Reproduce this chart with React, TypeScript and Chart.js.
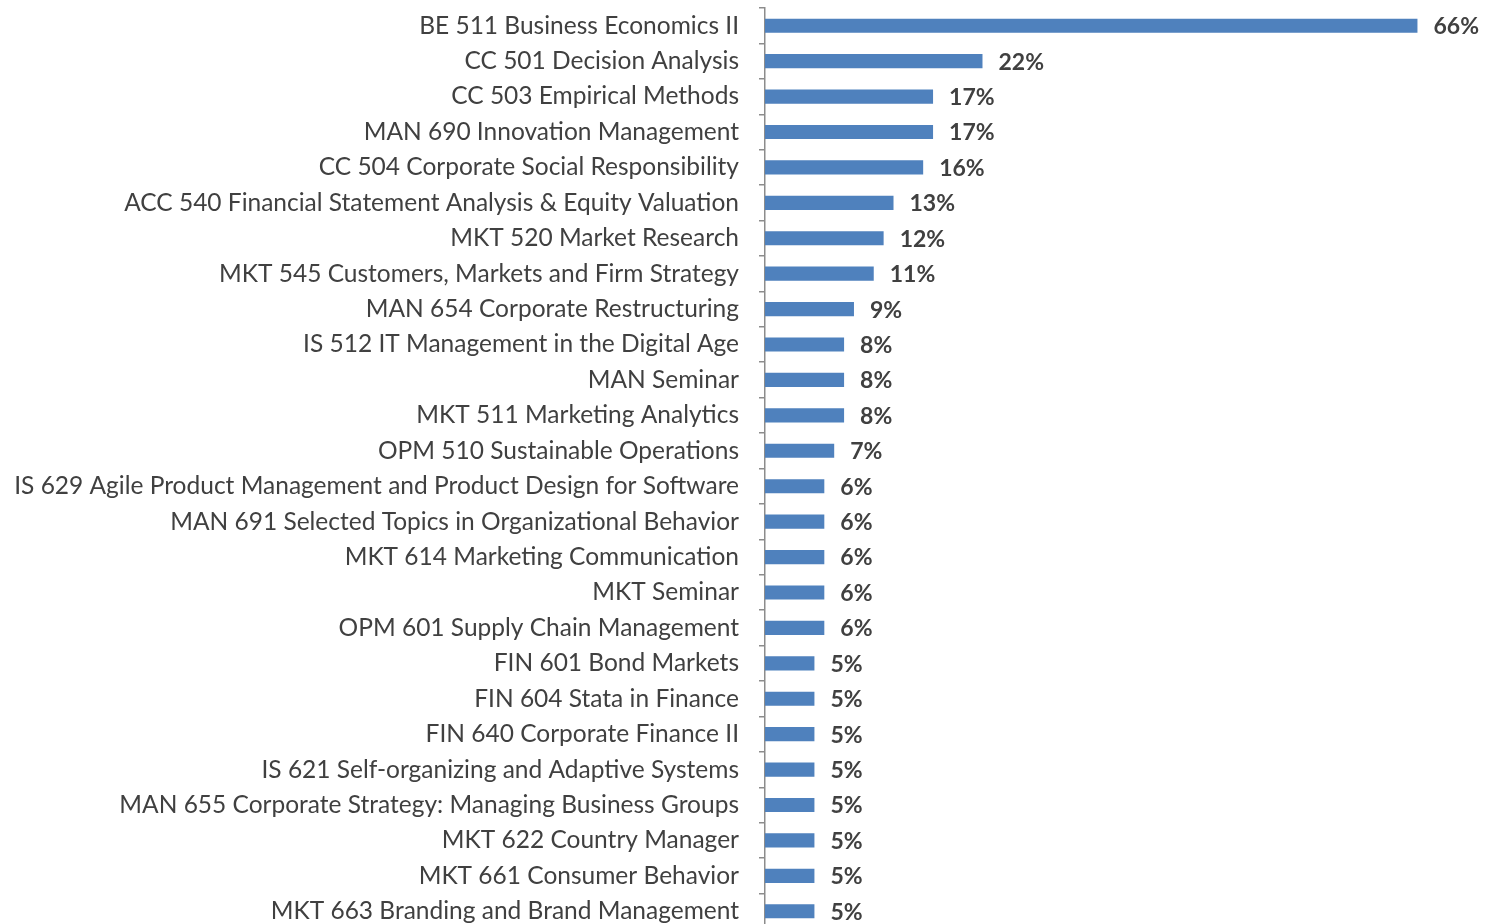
import React, { useEffect, useRef } from "react";
import { Chart, registerables } from "chart.js";

Chart.register(...registerables);

const courses: string[] = [
  "BE 511 Business Economics II",
  "CC 501 Decision Analysis",
  "CC 503 Empirical Methods",
  "MAN 690 Innovation Management",
  "CC 504 Corporate Social Responsibility",
  "ACC 540 Financial Statement Analysis & Equity Valuation",
  "MKT 520 Market Research",
  "MKT 545 Customers, Markets and Firm Strategy",
  "MAN 654 Corporate Restructuring",
  "IS 512 IT Management in the Digital Age",
  "MAN Seminar",
  "MKT 511 Marketing Analytics",
  "OPM 510 Sustainable Operations",
  "IS 629 Agile Product Management and Product Design for Software",
  "MAN 691 Selected Topics in Organizational Behavior",
  "MKT 614 Marketing Communication",
  "MKT Seminar",
  "OPM 601 Supply Chain Management",
  "FIN 601 Bond Markets",
  "FIN 604 Stata in Finance",
  "FIN 640 Corporate Finance II",
  "IS 621 Self-organizing and Adaptive Systems",
  "MAN 655 Corporate Strategy: Managing Business Groups",
  "MKT 622 Country Manager",
  "MKT 661 Consumer Behavior",
  "MKT 663 Branding and Brand Management",
];

const shares: number[] = [66, 22, 17, 17, 16, 13, 12, 11, 9, 8, 8, 8, 7, 6, 6, 6, 6, 6, 5, 5, 5, 5, 5, 5, 5, 5];

const valueLabels = {
  id: "valueLabels",
  afterDatasetsDraw(chart: any) {
    const ctx = chart.ctx;
    const meta = chart.getDatasetMeta(0);
    ctx.save();
    ctx.font = "bold 23px Lato";
    ctx.fillStyle = "#404040";
    ctx.textAlign = "left";
    ctx.textBaseline = "middle";
    meta.data.forEach((bar: any, i: number) => {
      ctx.fillText(shares[i] + "%", bar.x + 16, bar.y + 1);
    });
    ctx.restore();
  },
};

export default function App() {
  const ref = useRef<HTMLCanvasElement>(null);
  useEffect(() => {
    if (!ref.current) return;
    const chart = new Chart(ref.current, {
      type: "bar",
      data: {
        labels: courses,
        datasets: [
          {
            data: shares,
            backgroundColor: "#4F81BD",
            borderWidth: 0,
            barPercentage: 0.4,
            categoryPercentage: 1,
          },
        ],
      },
      options: {
        indexAxis: "y",
        animation: false,
        responsive: false,
        maintainAspectRatio: false,
        layout: { padding: { top: 8, bottom: 13, left: 0, right: 30 } },
        plugins: { legend: { display: false }, tooltip: { enabled: false } },
        scales: {
          x: { display: false, min: 0, max: 70 },
          y: {
            afterFit: (s: any) => {
              s.width = 765;
              s.paddingTop = 0;
              s.paddingBottom = 0;
            },
            grid: {
              drawOnChartArea: false,
              drawTicks: true,
              tickLength: 6,
              color: "#8c8c8c",
              lineWidth: 1.5,
              offset: true,
            },
            border: { display: true, color: "#8c8c8c", width: 1.5 },
            ticks: {
              autoSkip: false,
              padding: 20,
              color: "#404040",
              font: { family: "Lato", size: 24.5 },
            },
          },
        },
      },
      plugins: [valueLabels],
    });
    return () => chart.destroy();
  }, []);
  return (
    <div style={{ position: "absolute", left: 0, top: 0, width: 1487, height: 942, background: "#fff" }}>
      <canvas ref={ref} width={1487} height={942} style={{ display: "block" }} />
    </div>
  );
}
